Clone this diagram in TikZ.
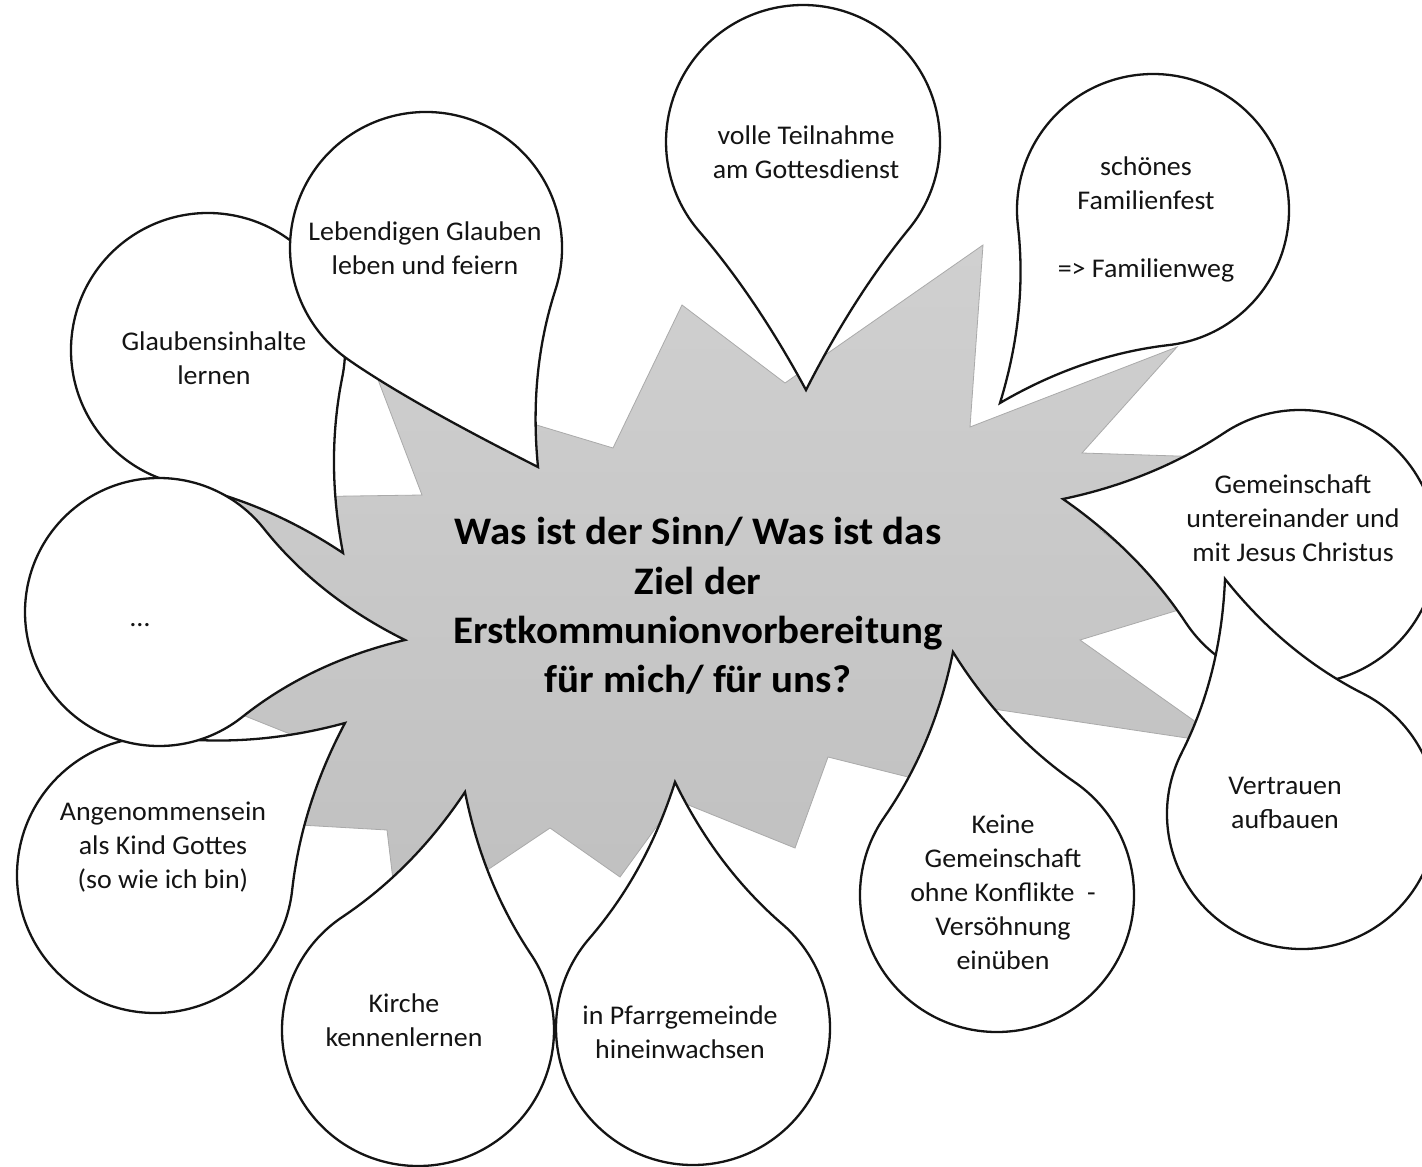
\documentclass[tikz,border=0pt]{standalone}
\usepackage{fontspec}
\setmainfont{Carlito}[FakeStretch=1.035]
\newfontfamily\titlefont{Carlito}[FakeStretch=1.05]
\usetikzlibrary{calc}
\definecolor{burstA}{RGB}{208,208,208}
\definecolor{burstB}{RGB}{192,192,192}
\definecolor{burstline}{RGB}{170,170,170}
\definecolor{ink}{RGB}{20,20,20}
\newcommand\drawbubble[9]{%
  \pgfmathsetmacro\bph{atan2((#5)-(#2),(#4)-(#1))}%
  \pgfmathsetmacro\bdd{veclen((#4)-(#1),(#5)-(#2))}%
  \pgfmathsetmacro\bta{\bph-(#6)}%
  \pgfmathsetmacro\btb{\bph+(#7)}%
  \pgfmathsetmacro\bend{\btb-360}%
  \pgfmathsetmacro\bka{(#8)*\bdd}%
  \pgfmathsetmacro\bkb{(#9)*\bdd}%
  \coordinate (bT) at (#4,#5);
  \coordinate (bA) at ({(#1)+(#3)*cos(\bta)},{(#2)+(#3)*sin(\bta)});
  \coordinate (bB) at ({(#1)+(#3)*cos(\btb)},{(#2)+(#3)*sin(\btb)});
  \coordinate (bQa) at ($(bA)+(\bta+90:\bka)$);
  \coordinate (bQb) at ($(bB)+(\btb-90:\bkb)$);
  \draw[bubble] (bT) .. controls ($(bT)!2/3!(bQa)$) and ($(bA)!2/3!(bQa)$) .. (bA)
    arc[start angle=\bta, end angle=\bend, radius=#3]
    .. controls ($(bB)!2/3!(bQb)$) and ($(bT)!2/3!(bQb)$) .. cycle;
}
\begin{document}
\begin{tikzpicture}[x=1pt,y=-1pt,
  bubble/.style={draw=ink, line width=2.3pt, fill=white, line join=miter},
  txt/.style={align=center, font=\fontsize{27}{34}\selectfont, text=ink, inner sep=0pt},
  ttl/.style={align=center, font=\titlefont\bfseries\fontsize{39}{49.3}\selectfont, text=black, inner sep=0pt},
  burst/.style={top color=burstA, bottom color=burstB, draw=burstline, line width=0.8pt, line join=miter}
]
\fill[white] (0,0) rectangle (1422,1167);
\useasboundingbox (0,0) rectangle (1422,1167);
\clip (0,0) rectangle (1422,1167);

% central starburst
\shade[burst] (983,245) -- (970,427) -- (1177,347) -- (1082,453) -- (1240,458) -- (1100,530)
  -- (1195,605) -- (1080,640) -- (1227,744) -- (980,707) -- (960,790) -- (828,757)
  -- (795,848) -- (676,800) -- (620,877) -- (550,828) -- (465,885) -- (440,845)
  -- (396,905) -- (387,830) -- (265,823) -- (330,750) -- (235,712) -- (360,640)
  -- (215,498) -- (422,495) -- (377,377) -- (613,448) -- (682,305) -- (785,383) -- cycle;

% bubbles: centre x, centre y, radius, tip x, tip y, angle1, angle2, ctrl1, ctrl2
\drawbubble{208}{350}{137}{343}{553}{45}{45}{0.3536}{0.3536}   % Glaubensinhalte
\drawbubble{155}{875}{138}{345}{723}{45}{45}{0.3536}{0.3536}   % Angenommensein
\drawbubble{159}{612}{134}{405}{640}{45}{45}{0.3536}{0.3536}   % ...
\drawbubble{426}{248}{136}{538}{467}{45}{62}{0.3536}{0.30}     % Lebendigen
\drawbubble{803}{142}{137}{806}{390}{50}{50}{0.35}{0.35}       % volle Teilnahme
\drawbubble{1153}{210}{136}{1000}{403}{45}{45}{0.3536}{0.3536} % Familienfest
\drawbubble{1300}{547}{137}{1063}{499}{45}{45}{0.3536}{0.3536} % Gemeinschaft
\drawbubble{1302}{814}{135}{1225}{579}{45}{45}{0.3536}{0.3536} % Vertrauen
\drawbubble{997}{895}{137}{953}{652}{45}{45}{0.3536}{0.3536}   % Keine Gemeinschaft
\drawbubble{693}{1028}{137}{675}{782}{45}{45}{0.3536}{0.3536}  % Pfarrgemeinde
\drawbubble{418}{1030}{136}{465}{792}{45}{45}{0.3536}{0.3536}  % Kirche

% texts
\node[ttl] (title) at (698,606) {Was ist der Sinn/ Was ist das\\Ziel der\\Erstkommunionvorbereitung\\für mich/ für uns?};
\node[txt] (tVolle) at (806,152) {volle Teilnahme\\am Gottesdienst};
\node[txt] (tFam) at (1146,219) {schönes\\Familienfest\\[34pt]=> Familienweg};
\node[txt] (tLeb) at (425,248) {Lebendigen Glauben\\leben und feiern};
\node[txt] (tGlaub) at (214,358) {Glaubensinhalte\\lernen};
\node[txt] (tDots) at (140,625) {…};
\node[txt] (tAng) at (163,847) {Angenommensein\\als Kind Gottes\\(so wie ich bin)};
\node[txt] (tKirche) at (404,1020) {Kirche\\kennenlernen};
\node[txt] (tPfarr) at (680,1032) {in Pfarrgemeinde\\hineinwachsen};
\node[txt] (tKeine) at (1003,892) {Keine\\Gemeinschaft\\ohne Konflikte~~-\\Versöhnung\\einüben};
\node[txt] (tVertr) at (1285,803) {Vertrauen\\aufbauen};
\node[txt] (tGem) at (1293,518) {Gemeinschaft\\untereinander und\\mit Jesus Christus};
\end{tikzpicture}
\end{document}
